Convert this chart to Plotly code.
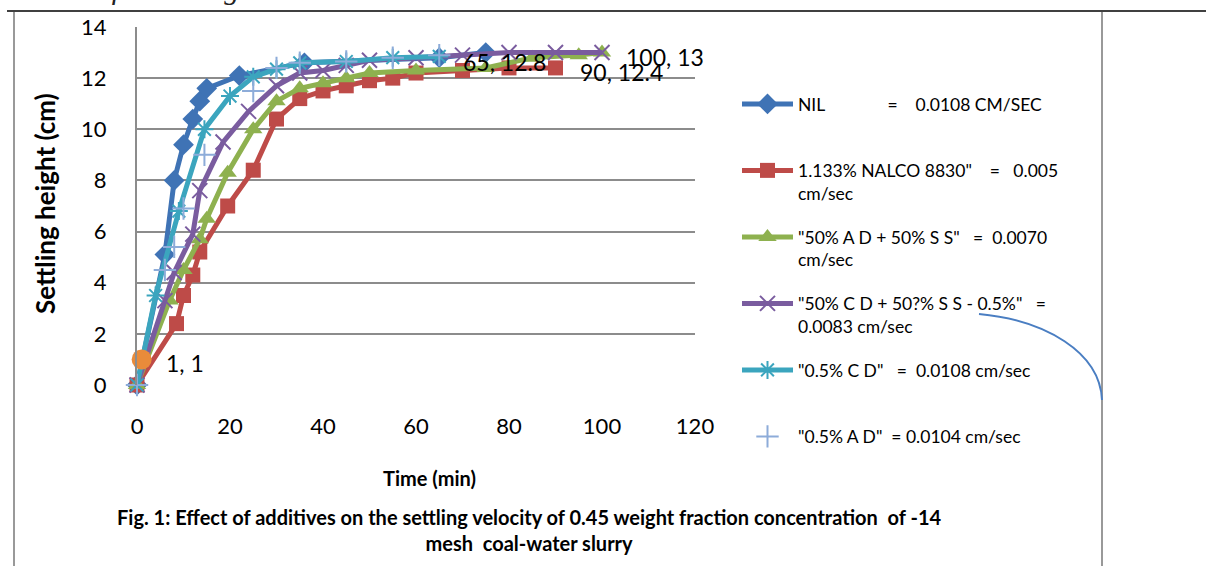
import plotly.graph_objects as go

# ---------------- data ----------------
t_nil = [0, 6, 8, 10, 12, 13.5, 15, 22, 36, 65, 75]
h_nil = [0, 5.1, 8.0, 9.4, 10.4, 11.1, 11.6, 12.1, 12.6, 12.8, 13.0]

t_nalco = [0, 8.5, 10, 12, 13.5, 19.5, 25, 30, 35, 40, 45, 50, 55, 60, 70, 80, 90]
h_nalco = [0, 2.4, 3.5, 4.3, 5.2, 7.0, 8.4, 10.4, 11.2, 11.5, 11.7, 11.9, 12.0, 12.2, 12.3, 12.4, 12.4]

t_adss = [0, 7, 10, 13.5, 15, 19.5, 25, 30, 35, 40, 45, 50, 60, 75, 85, 95, 100]
h_adss = [0, 3.3, 4.5, 5.7, 6.5, 8.3, 10.0, 11.1, 11.6, 11.8, 12.0, 12.2, 12.3, 12.4, 12.8, 12.9, 13.0]

t_cdss = [0, 6, 8, 12, 13.5, 18.5, 24, 30, 35, 40, 45, 50, 60, 70, 80, 90, 100]
h_cdss = [0, 3.3, 4.4, 5.9, 7.6, 9.5, 10.7, 11.7, 12.2, 12.3, 12.5, 12.7, 12.8, 12.9, 13.0, 13.0, 13.0]

t_cd = [0, 4, 9, 14.5, 20, 25, 30, 35, 45, 55, 65]
h_cd = [0, 3.5, 6.8, 10.0, 11.3, 12.05, 12.35, 12.6, 12.65, 12.8, 12.85]

t_ad = [0, 6, 8, 10, 14.5, 25, 30, 35, 45, 55, 65]
h_ad = [0, 4.5, 5.4, 6.9, 9.0, 11.5, 12.4, 12.6, 12.65, 12.8, 12.9]

t_extra = [1]
h_extra = [1]

NB = "\u00a0"
names = [
    "NIL" + NB * 14 + "=" + NB * 4 + "0.0108 CM/SEC<br>" + NB,
    "1.133% NALCO 8830\"" + NB * 4 + "=" + NB * 3 + "0.005<br>cm/sec",
    "\"50% A D + 50% S S\"" + NB * 3 + "=" + NB * 2 + "0.0070<br>cm/sec",
    "\"50% C D + 50?% S S - 0.5%\"" + NB * 3 + "=<br>0.0083 cm/sec",
    "\"0.5% C D\"" + NB * 3 + "=" + NB * 2 + "0.0108 cm/sec<br>" + NB,
    "\"0.5% A D\"" + NB * 2 + "= 0.0104 cm/sec",
]

x_ticks = [0, 20, 40, 60, 80, 100, 120]
y_ticks = [0, 2, 4, 6, 8, 10, 12, 14]

# point labels (series, index)
label_points = [(t_extra, h_extra, 0), (t_nil, h_nil, 9), (t_nalco, h_nalco, 16), (t_cdss, h_cdss, 16)]

# ---------------- layout helpers ----------------
W, H = 1206, 566
L, R, T, B = 137, 695, 27, 385


def px(x):
    return (x - L) / (R - L)


def py(y):
    return (B - y) / (B - T)


FONT = "Lato"
BLUE = "#3F73B5"
RED = "#BE4B48"
GREEN = "#8EB14F"
PURPLE = "#7A5C9F"
CYAN = "#3BA5BE"
LBLUE = "#8DACD9"
ORANGE = "#E98B3A"

fig = go.Figure()

fig.add_trace(go.Scatter(x=t_nil, y=h_nil, name=names[0], mode="lines+markers",
                         line=dict(color=BLUE, width=5),
                         marker=dict(symbol="diamond", size=16, color=BLUE),
                         legendgroup="a", cliponaxis=False))
fig.add_trace(go.Scatter(x=t_nalco, y=h_nalco, name=names[1], mode="lines+markers",
                         line=dict(color=RED, width=5),
                         marker=dict(symbol="square", size=15, color=RED),
                         legendgroup="b", cliponaxis=False))
fig.add_trace(go.Scatter(x=t_adss, y=h_adss, name=names[2], mode="lines+markers",
                         line=dict(color=GREEN, width=5),
                         marker=dict(symbol="triangle-up", size=16, color=GREEN),
                         legendgroup="c", cliponaxis=False))
fig.add_trace(go.Scatter(x=t_cdss, y=h_cdss, name=names[3], mode="lines+markers",
                         line=dict(color=PURPLE, width=5),
                         marker=dict(symbol="x-thin-open", size=15, color=PURPLE,
                                     line=dict(width=2, color=PURPLE)),
                         legendgroup="d", cliponaxis=False))
fig.add_trace(go.Scatter(x=t_cd, y=h_cd, name=names[4], mode="lines+markers",
                         line=dict(color=CYAN, width=5),
                         marker=dict(symbol="asterisk-open", size=15, color=CYAN,
                                     line=dict(width=2, color=CYAN)),
                         legendgroup="e", cliponaxis=False))
fig.add_trace(go.Scatter(x=t_ad, y=h_ad, name=names[5], mode="markers",
                         marker=dict(symbol="cross-thin-open", size=16, color=LBLUE,
                                     line=dict(width=2, color=LBLUE)),
                         legendgroup="f", cliponaxis=False))
fig.add_trace(go.Scatter(x=t_extra, y=h_extra, mode="markers", showlegend=False,
                         marker=dict(symbol="circle", size=20, color=ORANGE),
                         cliponaxis=False))

annotations = []
for xs, ys, i in label_points:
    annotations.append(dict(x=xs[i], y=ys[i], xref="x", yref="y",
                            text=f"{xs[i]:g}, {ys[i]:g}", showarrow=False,
                            xanchor="left", yanchor="middle", xshift=22, yshift=-4,
                            font=dict(family=FONT, size=23, color="black")))

# axis titles and caption
annotations.append(dict(x=px(45), y=py(204), xref="paper", yref="paper",
                        text="<b>Settling height (cm)</b>", textangle=-90, showarrow=False,
                        xanchor="center", yanchor="middle",
                        font=dict(family=FONT, size=26, color="black")))
annotations.append(dict(x=px(429), y=py(478), xref="paper", yref="paper",
                        text="<b>Time (min)</b>", showarrow=False,
                        xanchor="center", yanchor="middle",
                        font=dict(family=FONT, size=20, color="black")))
annotations.append(dict(x=px(529), y=py(530), xref="paper", yref="paper",
                        text="<b>Fig. 1: Effect of additives on the settling velocity of 0.45 weight fraction concentration" + NB + " of -14</b><br><b>mesh" + NB + " coal-water slurry</b>",
                        showarrow=False, xanchor="center", yanchor="middle", align="center",
                        font=dict(family=FONT, size=20, color="black")))
# cropped top text of the page
annotations.append(dict(x=px(-6), y=py(7), xref="paper", yref="paper",
                        text="<i>additives for raising</i>", showarrow=False,
                        xanchor="left", yanchor="bottom",
                        font=dict(family="Liberation Serif", size=30, color="#222222")))

shapes = [
    # page frame
    dict(type="line", xref="paper", yref="paper", x0=px(7), x1=px(1206), y0=py(11), y1=py(11),
         line=dict(color="black", width=1.5)),
    dict(type="line", xref="paper", yref="paper", x0=px(14), x1=px(14), y0=py(12), y1=py(566),
         line=dict(color="#999999", width=2)),
    dict(type="line", xref="paper", yref="paper", x0=px(1102), x1=px(1102), y0=py(12), y1=py(566),
         line=dict(color="#999999", width=2)),
    # decorative arc
    dict(type="path", xref="paper", yref="paper",
         path=f"M {px(979)},{py(314)} C {px(1045)},{py(320)} {px(1100)},{py(352)} {px(1102)},{py(400)}",
         line=dict(color="#4A7EC2", width=2)),
]

fig.update_layout(
    width=W, height=H,
    margin=dict(l=L, r=W - R, t=T, b=H - B, pad=0),
    paper_bgcolor="white", plot_bgcolor="white",
    font=dict(family=FONT, color="black"),
    showlegend=True,
    legend=dict(x=px(737), y=py(86), xanchor="left", yanchor="top",
                font=dict(family=FONT, size=17.5, color="black"),
                valign="top", tracegroupgap=18, traceorder="grouped",
                bgcolor="rgba(0,0,0,0)", itemwidth=51, maxheight=700),
    xaxis=dict(range=[0, 120], tickvals=x_ticks, ticktext=[str(v) for v in x_ticks],
               showgrid=False, zeroline=False, showline=False,
               ticks="", tickfont=dict(family=FONT, size=22, color="black"),
               ticklabelstandoff=26),
    yaxis=dict(range=[0, 14], tickvals=y_ticks, ticktext=[str(v) for v in y_ticks],
               showgrid=True, gridcolor="#8C8C8C", gridwidth=2, zeroline=False,
               showline=True, linecolor="#8C8C8C", linewidth=2,
               ticks="", tickfont=dict(family=FONT, size=22, color="black"),
               ticklabelstandoff=24),
    annotations=annotations,
    shapes=shapes,
)

fig.write_html("out.html")
